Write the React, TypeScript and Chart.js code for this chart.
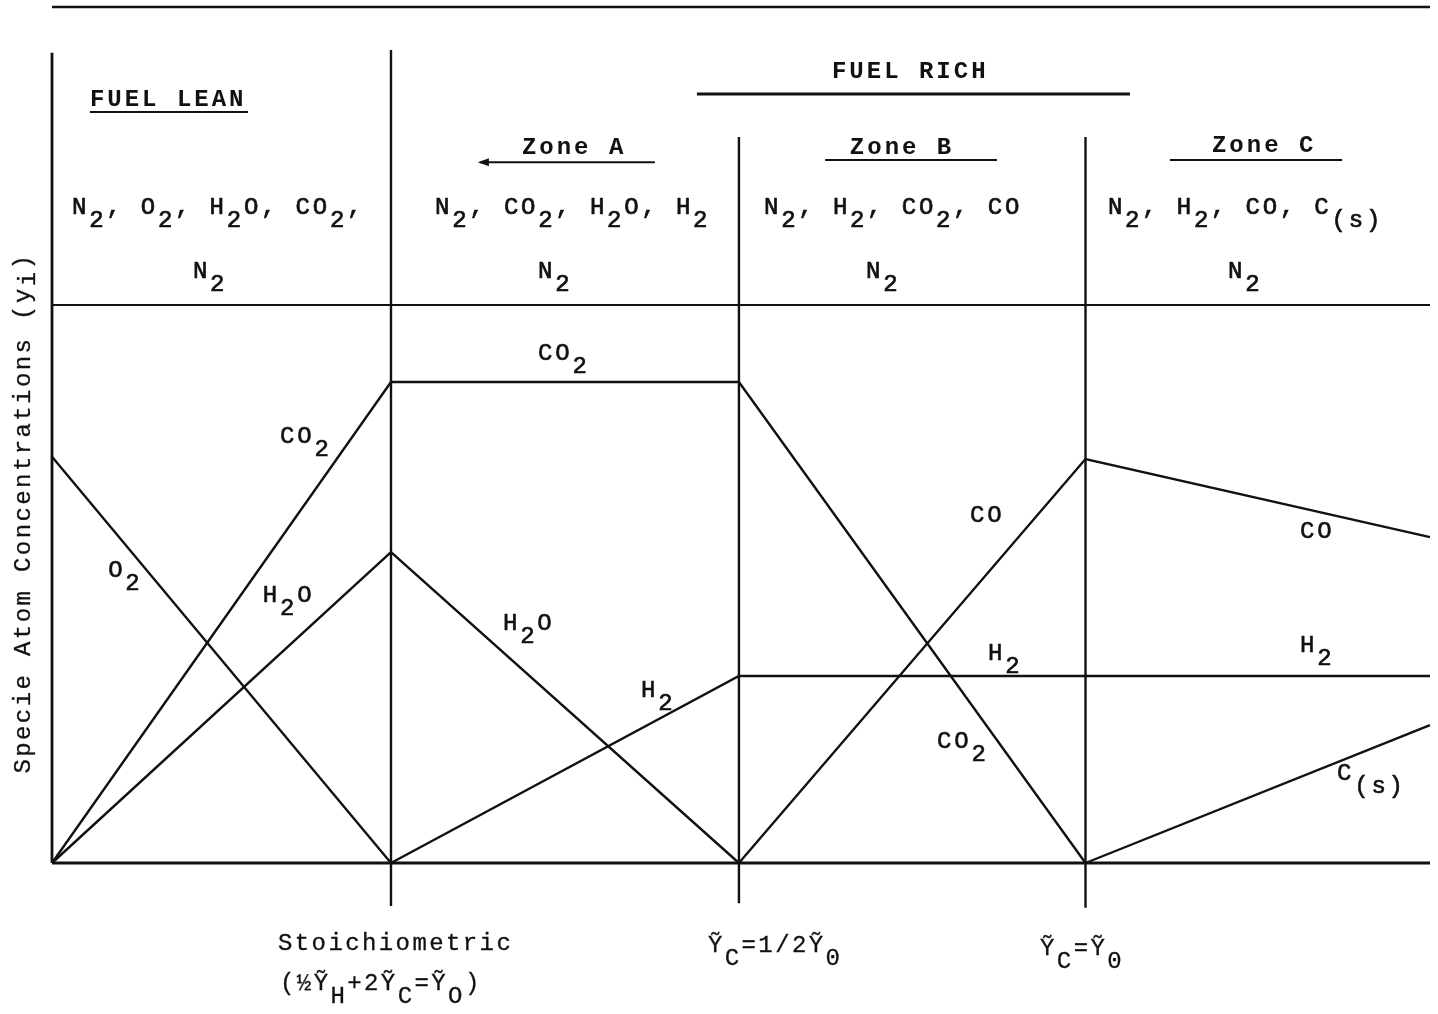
import React, { useEffect, useRef } from "react";
import { Chart, registerables } from "chart.js";

Chart.register(...registerables);

// Mixture states along the abscissa: lean limit, stoichiometric, Y_C = 1/2 Y_O, Y_C = Y_O, right edge
const stateX = [0, 0.984, 1.994, 3.0, 4.0];

// Species atom concentrations at each state (null = species absent there)
const o2 = [0.728, 0, null, null, null];
const co2 = [0, 0.862, 0.862, 0, null];
const h2o = [0, 0.557, 0, null, null];
const h2 = [null, 0, 0.335, 0.335, 0.335];
const co = [null, null, 0, 0.724, 0.584];
const carbon = [null, null, null, 0, 0.247];
const n2 = [1, 1, 1, 1, 1];
const baseline = [0, 0, 0, 0, 0];

// Zone boundaries (vertical rules) and how far they reach
const edgeX = [0, 0.984, 1.994, 3.0];
const edgeTop = [1.452, 1.457, 1.301, 1.301];
const edgeBottom = [0, -0.077, -0.072, -0.08];
const frameTop = 1.534;
const yMax = 1.534;

const FONT = '"Liberation Mono", "DejaVu Sans Mono", monospace';

type Seg = { t: string; dy: number };

function parseRich(str: string, subShift: number): Seg[] {
  const segs: Seg[] = [];
  const re = /_\{([^}]*)\}|\^\{([^}]*)\}|_(.)|([^_^]+)/g;
  let m: RegExpExecArray | null;
  while ((m = re.exec(str))) {
    if (m[1] !== undefined) segs.push({ t: m[1], dy: subShift });
    else if (m[2] !== undefined) segs.push({ t: m[2], dy: -subShift * 0.6 });
    else if (m[3] !== undefined) segs.push({ t: m[3], dy: subShift });
    else segs.push({ t: m[4], dy: 0 });
  }
  return segs;
}

function drawRich(
  ctx: CanvasRenderingContext2D,
  str: string,
  x: number,
  y: number,
  o: {
    weight?: string;
    size?: number;
    spacing?: number;
    sub?: number;
    align?: "left" | "center";
    stroke?: number;
  } = {}
) {
  const size = o.size ?? 24;
  const spacing = o.spacing ?? 2.8;
  const sub = o.sub ?? 13;
  ctx.save();
  ctx.font = `${o.weight ?? "normal"} ${size}px ${FONT}`;
  (ctx as any).letterSpacing = `${spacing}px`;
  ctx.textAlign = "left";
  ctx.textBaseline = "alphabetic";
  ctx.fillStyle = "#111";
  ctx.strokeStyle = "#111";
  ctx.lineWidth = o.stroke ?? 0;
  const segs = parseRich(str, sub);
  let total = 0;
  for (const s of segs) total += ctx.measureText(s.t).width;
  let cx = o.align === "center" ? x - total / 2 : x;
  for (const s of segs) {
    ctx.fillText(s.t, cx, y + s.dy);
    if (o.stroke) ctx.strokeText(s.t, cx, y + s.dy);
    cx += ctx.measureText(s.t).width;
  }
  ctx.restore();
  return total;
}

// Region headings: [text, x, baseline y]
const headings: [string, number, number][] = [
  ["FUEL LEAN", 0.11, 1.357],
  ["FUEL RICH", 2.264, 1.407],
  ["Zone A", 1.364, 1.271],
  ["Zone B", 2.316, 1.271],
  ["Zone C", 3.367, 1.274],
];
// Heading rules: [x1, x2, y, thickness]
const headingRules: [number, number, number, number][] = [
  [0.11, 0.569, 1.346, 2],
  [1.872, 3.129, 1.378, 3],
  [1.242, 1.75, 1.256, 2],
  [2.244, 2.743, 1.26, 2],
  [3.245, 3.745, 1.26, 2],
];
// Species present in each region
const speciesRows: [string, number, number][] = [
  ["N_2, O_2, H_2O, CO_2,", 0.058, 1.163],
  ["N_2, CO_2, H_2O, H_2", 1.112, 1.163],
  ["N_2, H_2, CO_2, CO", 2.067, 1.163],
  ["N_2, H_2, CO, C_{(s)}", 3.065, 1.163],
  ["N_2", 0.409, 1.048],
  ["N_2", 1.411, 1.048],
  ["N_2", 2.363, 1.048],
  ["N_2", 3.414, 1.048],
];
// Curve labels
const curveLabels: [string, number, number][] = [
  ["CO_2", 0.662, 0.753],
  ["H_2O", 0.612, 0.468],
  ["O_2", 0.163, 0.513],
  ["CO_2", 1.411, 0.901],
  ["H_2O", 1.309, 0.418],
  ["H_2", 1.71, 0.297],
  ["CO", 2.665, 0.611],
  ["H_2", 2.717, 0.364],
  ["CO_2", 2.569, 0.206],
  ["CO", 3.623, 0.582],
  ["H_2", 3.623, 0.378],
  ["C_{(s)}", 3.73, 0.149],
];
// Abscissa markers
const stateLabels: [string, number, number][] = [
  ["Stoichiometric", 0.656, -0.156],
  ["(½Ỹ_H+2Ỹ_C=Ỹ_O)", 0.662, -0.228],
  ["Ỹ_C=1/2Ỹ_0", 1.904, -0.159],
  ["Ỹ_C=Ỹ_0", 2.868, -0.165],
];
const yTitle = "Specie Atom Concentrations (y_i)";

const annotate = {
  id: "annotate",
  afterDraw(chart: Chart) {
    const ctx = chart.ctx;
    const xs = chart.scales.x;
    const ys = chart.scales.y;
    const px = (v: number) => xs.getPixelForValue(v);
    const py = (v: number) => ys.getPixelForValue(v);

    for (const [t, x, y] of headings)
      drawRich(ctx, t, px(x), py(y), { weight: "bold", spacing: 3 });
    ctx.save();
    ctx.strokeStyle = "#111";
    for (const [x1, x2, y, w] of headingRules) {
      ctx.lineWidth = w;
      ctx.beginPath();
      ctx.moveTo(px(x1), py(y));
      ctx.lineTo(px(x2), py(y));
      ctx.stroke();
    }
    // arrowhead on the Zone A rule
    const ax = px(headingRules[2][0]);
    const ay = py(headingRules[2][2]);
    ctx.fillStyle = "#111";
    ctx.beginPath();
    ctx.moveTo(ax - 2, ay);
    ctx.lineTo(ax + 9, ay - 4);
    ctx.lineTo(ax + 9, ay + 4);
    ctx.closePath();
    ctx.fill();
    ctx.restore();

    for (const [t, x, y] of speciesRows) drawRich(ctx, t, px(x), py(y), { stroke: 0.7 });
    for (const [t, x, y] of curveLabels) drawRich(ctx, t, px(x), py(y), { stroke: 0.6 });
    for (const [t, x, y] of stateLabels)
      drawRich(ctx, t, px(x), py(y), { spacing: 2.4, stroke: 0.3 });

    ctx.save();
    ctx.translate(px(-0.064), py(0.627));
    ctx.rotate(-Math.PI / 2);
    drawRich(ctx, yTitle, 0, 0, { align: "center", spacing: 2.4, sub: 5, stroke: 0.3 });
    ctx.restore();
  },
};

function series(vals: (number | null)[]) {
  return stateX.map((x, i) => ({ x, y: vals[i] as number }));
}

export default function App() {
  const ref = useRef<HTMLCanvasElement | null>(null);

  useEffect(() => {
    if (!ref.current) return;
    const line = (data: { x: number; y: number | null }[], width = 2.4) => ({
      data,
      borderColor: "#111",
      borderWidth: width,
      pointRadius: 0,
      fill: false,
      tension: 0,
      clip: false as any,
      spanGaps: false,
    });
    const datasets: any[] = [
      line(series(o2)),
      line(series(co2)),
      line(series(h2o)),
      line(series(h2)),
      line(series(co)),
      line(series(carbon)),
      line(series(n2), 2.2),
      line(series(baseline), 2.8),
      line([{ x: 0, y: frameTop }, { x: 4, y: frameTop }], 2.4),
      ...edgeX.map((x, i) =>
        line([{ x, y: edgeTop[i] }, { x, y: edgeBottom[i] }], i === 0 ? 2.8 : 2.4)
      ),
    ];
    const chart = new Chart(ref.current, {
      type: "line",
      data: { datasets },
      options: {
        animation: false,
        responsive: false,
        layout: { padding: { left: 52, right: 8, top: 7, bottom: 151 } },
        plugins: { legend: { display: false }, tooltip: { enabled: false } },
        scales: {
          x: { type: "linear", min: 0, max: 4, display: false },
          y: { type: "linear", min: 0, max: yMax, display: false },
        },
      },
      plugins: [annotate],
    });
    return () => chart.destroy();
  }, []);

  return (
    <div style={{ position: "fixed", left: 0, top: 0, width: 1438, height: 1014, background: "#fff" }}>
      <canvas ref={ref} width={1438} height={1014} style={{ width: 1438, height: 1014 }} />
    </div>
  );
}
